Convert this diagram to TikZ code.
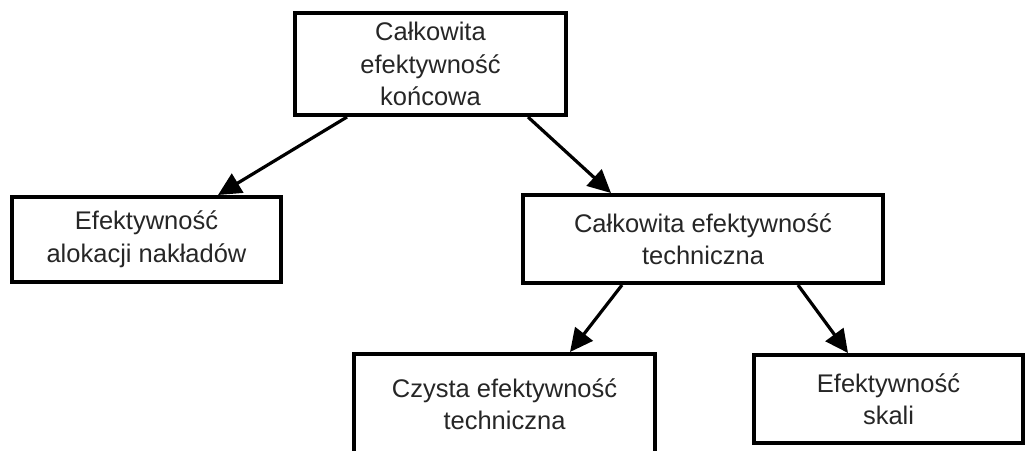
\documentclass[tikz,border=0pt]{standalone}
\usepackage{fontspec}
\setmainfont{Liberation Sans}
\usepackage{tikz}
\usetikzlibrary{arrows.meta}

\begin{document}
\begin{tikzpicture}[
  x=1pt, y=-1pt,
  font=\fontsize{25.5}{32.5}\selectfont,
  box/.style={draw, line width=4pt, align=center, inner sep=0pt, text=black!85},
  arr/.style={-{Triangle[length=23pt, width=22pt]}, line width=3.2pt}]
  \useasboundingbox (0,0) rectangle (1028,450);
  \clip (0,0) rectangle (1028,450);
  \node[box, minimum width=271pt, minimum height=102pt] (total) at (430.5,64) {Całkowita\\ efektywność\\ końcowa};
  \node[box, minimum width=269pt, minimum height=85pt] (alloc) at (146.5,239.5) {Efektywność\\ alokacji nakładów};
  \node[box, minimum width=360pt, minimum height=88pt] (tech) at (703,239) {Całkowita efektywność\\ techniczna};
  \node[box, minimum width=301pt, minimum height=100pt] (pure) at (504.5,404) {Czysta efektywność\\ techniczna};
  \node[box, minimum width=269pt, minimum height=88pt] (scale) at (888.5,399) {Efektywność\\ skali};
  \draw[arr] ([xshift=54pt]total.south west) -- ([xshift=71.5pt]alloc.north);
  \draw[arr] ([xshift=-40pt]total.south east) -- ([xshift=90pt]tech.north west);
  \draw[arr] ([xshift=101pt]tech.south west) -- ([xshift=65.5pt]pure.north);
  \draw[arr] ([xshift=95pt]tech.south) -- ([xshift=96pt]scale.north west);
\end{tikzpicture}
\end{document}
